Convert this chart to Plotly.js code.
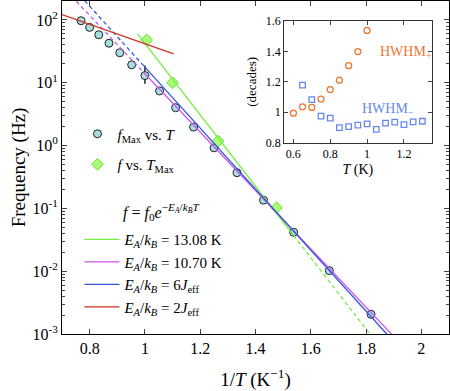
<!DOCTYPE html>
<html><head><meta charset="utf-8">
<script src="https://cdn.plot.ly/plotly-3.0.1.min.js"></script>
<style>html,body{margin:0;padding:0;background:#fff}</style>
</head><body>
<div id="chart" style="width:450px;height:391px"></div>
<script>
// ---- main data: f_Max vs 1/T ----
const invT = [0.769,0.800,0.833,0.870,0.909,0.952,1.000,1.053,1.111,1.176,1.250,1.333,1.429,1.538,1.667,1.818];
const fMax = [97,76,58,42.5,30,19.3,13,7.4,4.0,1.97,0.92,0.37,0.135,0.0416,0.0102,0.00206];
const fMaxErrPlus  = [10,8,6,4.5,3,3,5.8,0.8,0.4,0.2,0.1,0.04,0.014,0.0045,0.0014,0.0003];
const fMaxErrMinus = [9,7,5.5,4,2.7,2.6,3.4,0.7,0.36,0.18,0.09,0.035,0.013,0.004,0.0012,0.00027];
// ---- f vs T_Max ----
const invTMax = [1.0065,1.100,1.265,1.476];
const fTMax = [48,10,1.18,0.102];
// ---- Arrhenius fits f = f0 exp(-EA/(kB T)) ----
const fitLabels = ["<i>E<sub>A</sub></i>/<i>k<sub>B</sub></i> = 13.08 K","<i>E<sub>A</sub></i>/<i>k<sub>B</sub></i> = 10.70 K","<i>E<sub>A</sub></i>/<i>k<sub>B</sub></i> = 6<i>J</i><sub>eff</sub>","<i>E<sub>A</sub></i>/<i>k<sub>B</sub></i> = 2<i>J</i><sub>eff</sub>"];
const fitEA = [13.08,10.70,11.18,3.56];
const fitLog10F0 = [7.305,5.79,6.103,3.166];
const fitSolid = [[0.973,1.538],[1.0,1.894],[1.0,1.875],[0.7,1.104]];
const fitDashed = [[1.538,1.82],[0.752,1.0],[0.782,1.0],null];
const fitColors = ["#77ee44","#cc55ee","#3355dd","#cc3322"];
// ---- tick labels ----
const yTickVals = [1e-3,1e-2,1e-1,1,10,100];
const yTickText = ['10<sup>-3</sup>','10<sup>-2</sup>','10<sup>-1</sup>','10<sup>0</sup>','10<sup>1</sup>','10<sup>2</sup>'];
const xTickVals = [0.8,1,1.2,1.4,1.6,1.8,2];
const xTickText = ['0.8','1','1.2','1.4','1.6','1.8','2'];
// ---- inset: HWHM ----
const T_plus = [0.6,0.65,0.7,0.75,0.8,0.85,0.9,0.95,1.0];
const hwhmPlus = [0.994,1.036,1.032,1.087,1.149,1.211,1.306,1.399,1.538];
const T_minus = [0.65,0.7,0.75,0.8,0.85,0.9,0.95,1.0,1.05,1.1,1.15,1.2,1.25,1.3];
const hwhmMinus = [1.178,1.083,0.975,0.961,0.899,0.906,0.915,0.924,0.888,0.928,0.935,0.919,0.937,0.941];
const insetXVals = [0.6,0.8,1,1.2];
const insetXText = ['0.6','0.8','1','1.2'];
const insetYVals = [0.8,1,1.2,1.4,1.6];
const insetYText = ['0.8','1','1.2','1.4','1.6'];

const FONT = "Liberation Serif";
function fitY(i, x){ return Math.pow(10, fitLog10F0[i]) * Math.exp(-fitEA[i]*x); }

const traces = [];
traces.push({x:invT, y:fMax, type:'scatter', mode:'markers', name:'<i>f</i><sub>Max</sub> vs. <i>T</i>',
  legend:'legend', legendgroup:'a',
  marker:{symbol:'circle', size:8, color:'#a6dede', line:{color:'#222', width:1}},
  error_y:{type:'data', symmetric:false, array:fMaxErrPlus, arrayminus:fMaxErrMinus, color:'#222', thickness:1.5, width:0}});
traces.push({x:invTMax, y:fTMax, type:'scatter', mode:'markers', name:'<i>f</i> vs. <i>T</i><sub>Max</sub>',
  legend:'legend', legendgroup:'b',
  marker:{symbol:'diamond', size:9, color:'#aaff77', line:{color:'#66dd33', width:1}}});
for (let i=0;i<fitEA.length;i++){
  const s = fitSolid[i];
  traces.push({x:s, y:s.map(x=>fitY(i,x)), type:'scatter', mode:'lines', name:fitLabels[i],
    legend:'legend2', line:{color:fitColors[i], width:1.3}});
  const d = fitDashed[i];
  if (d) traces.push({x:d, y:d.map(x=>fitY(i,x)), type:'scatter', mode:'lines', showlegend:false,
    line:{color:fitColors[i], width:1.3, dash:'4px,3px'}});
}
// inset
traces.push({x:T_plus, y:hwhmPlus, type:'scatter', mode:'markers', xaxis:'x2', yaxis:'y2', showlegend:false,
  marker:{symbol:'circle-open', size:6, color:'#ee7733', line:{width:1.3}}});
traces.push({x:T_minus, y:hwhmMinus, type:'scatter', mode:'markers', xaxis:'x2', yaxis:'y2', showlegend:false,
  marker:{symbol:'square-open', size:5.5, color:'#6688ee', line:{width:1.3}}});

const layout = {
  width:450, height:391,
  margin:{l:62, r:1, t:1, b:57},
  paper_bgcolor:'#fff', plot_bgcolor:'#fff',
  font:{family:FONT, size:15, color:'#000'},
  showlegend:true,
  xaxis:{range:[0.7,2.1], tickvals:xTickVals, ticktext:xTickText,
    ticks:'inside', ticklen:5, mirror:'allticks', showline:true, linecolor:'#000', linewidth:1, showgrid:false, zeroline:false,
    tickfont:{size:16}, title:{text:'1/<i>T</i> (K<sup>−1</sup>)', font:{size:19}, standoff:18}},
  yaxis:{type:'log', range:[-3, 2.301], tickvals:yTickVals, ticktext:yTickText,
    ticks:'inside', ticklen:5, mirror:'allticks', showline:true, linecolor:'#000', linewidth:1, showgrid:false, zeroline:false,
    minor:{ticks:'inside', ticklen:3, dtick:'D1', showgrid:false},
    tickfont:{size:16}, title:{text:'Frequency (Hz)', font:{size:19}, standoff:1}},
  xaxis2:{domain:[0.574,0.955], anchor:'y2', range:[0.55,1.35], tickvals:insetXVals, ticktext:insetXText,
    ticks:'inside', ticklen:4, mirror:'allticks', showline:true, linecolor:'#333', showgrid:false, zeroline:false,
    tickfont:{size:12}, title:{text:'<i>T</i> (K)', font:{size:14}, standoff:4}},
  yaxis2:{domain:[0.5745,0.94], anchor:'x2', range:[0.8,1.6], tickvals:insetYVals, ticktext:insetYText,
    ticks:'inside', ticklen:4, mirror:'allticks', showline:true, linecolor:'#333', showgrid:false, zeroline:false,
    tickfont:{size:12}, title:{text:'(decades)', font:{size:13}, standoff:6}},
  legend:{x:0.04, y:0.65, xanchor:'left', yanchor:'top', bgcolor:'rgba(0,0,0,0)', borderwidth:0,
    font:{size:15}, traceorder:'grouped', tracegroupgap:8, itemwidth:30},
  legend2:{x:0.045, y:0.333, xanchor:'left', yanchor:'top', bgcolor:'rgba(0,0,0,0)', borderwidth:0,
    font:{size:15}, itemwidth:35},
  shapes:[{type:'rect', xref:'x2 domain', yref:'y2 domain', x0:0, x1:1, y0:0, y1:1, fillcolor:'#fff', line:{width:0}, layer:'below'}],
  annotations:[
    {xref:'paper', yref:'paper', x:0.256, y:0.365, xanchor:'center', text:'<i>f</i> = <i>f</i><sub>0</sub><i>e</i><sup>−<i>E<sub>A</sub></i>/<i>k<sub>B</sub>T</i></sup>', showarrow:false, font:{size:16}},
    {xref:'x2', yref:'y2', x:1.06, y:1.39, xanchor:'left', text:'HWHM<sub>+</sub>', showarrow:false, font:{size:14, color:'#ee7733'}},
    {xref:'x2', yref:'y2', x:0.96, y:1.015, xanchor:'left', text:'HWHM<sub>−</sub>', showarrow:false, font:{size:14, color:'#6688ee'}}
  ]
};
Plotly.newPlot('chart', traces, layout, {displayModeBar:false, staticPlot:true});
</script>
</body></html>
